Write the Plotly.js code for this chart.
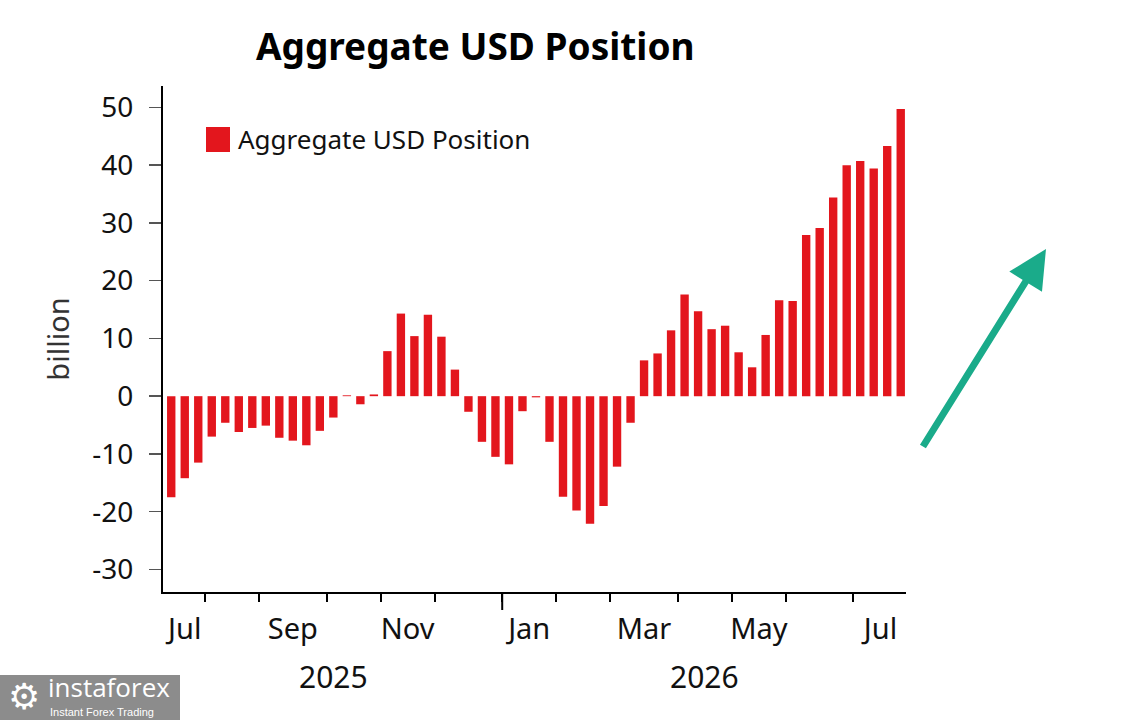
<!DOCTYPE html>
<html>
<head>
<meta charset="utf-8">
<script src="https://cdn.plot.ly/plotly-3.0.1.min.js"></script>
<style>html,body{margin:0;padding:0;background:#fff;}#chart{width:1135px;height:720px;}</style>
</head>
<body>
<div id="chart"></div>
<script>
// Weekly report dates (Tuesdays)
var dates = [
  "2025-07-15","2025-07-22","2025-07-29",
  "2025-08-05","2025-08-12","2025-08-19","2025-08-26",
  "2025-09-02","2025-09-09","2025-09-16","2025-09-23","2025-09-30",
  "2025-10-07","2025-10-14","2025-10-21","2025-10-28",
  "2025-11-04","2025-11-11","2025-11-18","2025-11-25",
  "2025-12-02","2025-12-09","2025-12-16","2025-12-23","2025-12-30",
  "2026-01-06","2026-01-13","2026-01-20","2026-01-27",
  "2026-02-03","2026-02-10","2026-02-17","2026-02-24",
  "2026-03-03","2026-03-10","2026-03-17","2026-03-24","2026-03-31",
  "2026-04-07","2026-04-14","2026-04-21","2026-04-28",
  "2026-05-05","2026-05-12","2026-05-19","2026-05-26",
  "2026-06-02","2026-06-09","2026-06-16","2026-06-23","2026-06-30",
  "2026-07-07","2026-07-14","2026-07-21","2026-07-28"
];
// Aggregate USD position, billion
var usdPosition = [
  -17.5,-14.2,-11.5,
  -7.0,-4.6,-6.2,-5.5,
  -5.1,-7.2,-7.7,-8.5,-6.0,
  -3.7,0.15,-1.4,0.3,
  7.8,14.3,10.4,14.1,
  10.3,4.6,-2.7,-7.9,-10.5,
  -11.8,-2.6,-0.2,-7.9,
  -17.4,-19.8,-22.1,-19.0,
  -12.2,-4.6,6.2,7.4,11.4,
  17.6,14.7,11.6,12.2,
  7.6,5.0,10.6,16.6,
  16.5,27.9,29.1,34.4,40.0,
  40.7,39.4,43.3,49.7
];
var monthNames = ["Jan","Feb","Mar","Apr","May","Jun","Jul","Aug","Sep","Oct","Nov","Dec"];
var labelledMonths = ["Jul","Sep","Nov","Jan","Mar","May"];
var yTicks = [-30,-20,-10,0,10,20,30,40,50];
var yTickText = ["-30","-20","-10","0","10","20","30","40","50"];
var seriesName = "Aggregate USD Position";
var chartTitle = "Aggregate USD Position";
var yTitle = "billion";

// ---- derive month / year groupings from dates ----
var idx = dates.map(function(d,i){return i;});
var months = [], years = [];
dates.forEach(function(d,i){
  var y = d.slice(0,4), m = +d.slice(5,7);
  var key = y+"-"+m;
  if(!months.length || months[months.length-1].key!==key) months.push({key:key,name:monthNames[m-1],year:y,first:i,last:i});
  else months[months.length-1].last = i;
  if(!years.length || years[years.length-1].year!==y) years.push({year:y,first:i,last:i});
  else years[years.length-1].last = i;
});
var boundaries = months.slice(1).map(function(m){return m.first-0.5;});
var yearBoundaries = years.slice(1).map(function(y){return y.first-0.5;});
var labelMonths = months.filter(function(m){return labelledMonths.indexOf(m.name)>=0;});
var labelVals = labelMonths.map(function(m){return (m.first+m.last)/2;});
var labelText = labelMonths.map(function(m){return m.name;});

// ---- geometry helpers (layout only) ----
var W=1135,H=720,ML=163,MR=229,MT=86,MB=128;
var PW=W-ML-MR, PH=H-MT-MB;
function px(x){return (x-ML)/PW;}
function py(y){return (H-MB-y)/PH;}

var FONT="'Noto Sans', 'Open Sans', sans-serif";
var RED="#e3161d";

var shapes = [];
yearBoundaries.forEach(function(b){
  shapes.push({type:"line",xref:"x",yref:"paper",ysizemode:"pixel",yanchor:0,x0:b,x1:b,y0:0,y1:-18,
    line:{color:"#000",width:2}});
});
// legend swatch
shapes.push({type:"rect",xref:"paper",yref:"paper",x0:px(206),x1:px(230),y0:py(152),y1:py(127),
  fillcolor:RED,line:{width:0}});
// watermark box
shapes.push({type:"rect",xref:"paper",yref:"paper",x0:px(0),x1:px(180),y0:py(720),y1:py(675),
  fillcolor:"#8c8c8c",line:{width:0},layer:"above"});

var annotations = [];
years.forEach(function(y){
  annotations.push({xref:"x",yref:"paper",x:(y.first+y.last)/2,y:py(676),text:y.year,showarrow:false,
    xanchor:"center",yanchor:"middle",font:{family:FONT,size:30,color:"#111"}});
});
annotations.push({xref:"paper",yref:"paper",x:px(236),y:py(139),text:seriesName,showarrow:false,
  xanchor:"left",yanchor:"middle",font:{family:FONT,size:26,color:"#111"}});
// trend arrow
annotations.push({xref:"paper",yref:"paper",x:px(1046),y:py(249),axref:"pixel",ayref:"pixel",
  ax:-124,ay:199,text:"",showarrow:true,arrowhead:2,arrowsize:1.1,arrowwidth:7,arrowcolor:"#1aab8a",standoff:0});
// watermark text
annotations.push({xref:"paper",yref:"paper",x:px(24),y:py(696),text:"\u2699",showarrow:false,
  xanchor:"center",yanchor:"middle",font:{family:"DejaVu Sans",size:36,color:"#fff"}});
annotations.push({xref:"paper",yref:"paper",x:px(46),y:py(687),text:"instaforex",showarrow:false,
  xanchor:"left",yanchor:"middle",font:{family:"'Open Sans', sans-serif",size:26,color:"#fff"}});
annotations.push({xref:"paper",yref:"paper",x:px(48),y:py(712),text:"Instant Forex Trading",showarrow:false,
  xanchor:"left",yanchor:"middle",font:{family:"'Liberation Sans', sans-serif",size:11,color:"#fff"}});

var trace = {
  type:"bar", x:idx, y:usdPosition, name:seriesName, width:0.62,
  marker:{color:RED,line:{width:0}}, customdata:dates,
  hovertemplate:"%{customdata}: %{y}<extra></extra>", showlegend:false
};

var layout = {
  width:W,height:H,
  margin:{l:ML,r:MR,t:MT,b:MB,pad:0},
  paper_bgcolor:"#fff",plot_bgcolor:"#fff",
  font:{family:FONT,color:"#111"},
  showlegend:false,
  title:{text:"<b>"+chartTitle+"</b>",x:477/W,xanchor:"center",xref:"paper",y:1-47/H,yanchor:"middle",
    font:{family:FONT,size:37,color:"#000"}},
  xaxis:{range:[-0.61,54.39],showgrid:false,zeroline:false,showline:true,linecolor:"#000",linewidth:2,
    tickmode:"array",tickvals:labelVals,ticktext:labelText,ticks:"",ticklabelstandoff:10,
    tickfont:{family:FONT,size:29,color:"#111"},
    minor:{tickmode:"array",tickvals:boundaries,ticks:"outside",ticklen:8,tickwidth:2,tickcolor:"#000",showgrid:false}},
  yaxis:{range:[-33.9,53.7],showgrid:false,zeroline:false,showline:true,linecolor:"#000",linewidth:2,
    tickmode:"array",tickvals:yTicks,ticktext:yTickText,ticks:"outside",ticklen:12,tickwidth:1.5,tickcolor:"#555",
    ticklabelstandoff:10,
    tickfont:{family:FONT,size:28,color:"#111"},
    title:{text:yTitle,standoff:14,font:{family:FONT,size:29,color:"#333"}}},
  shapes:shapes,
  annotations:annotations,
  bargap:0.38
};

Plotly.newPlot("chart",[trace],layout,{displayModeBar:false,staticPlot:true});
</script>
</body>
</html>
